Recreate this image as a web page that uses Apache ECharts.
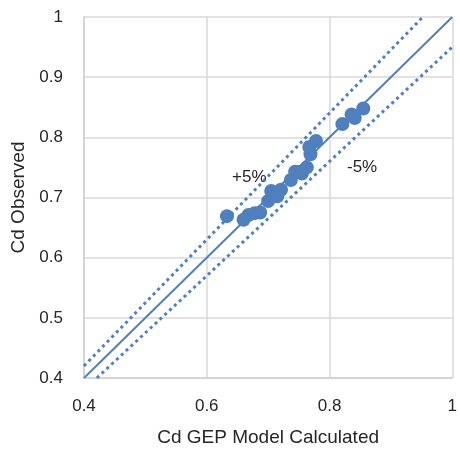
<!DOCTYPE html>
<html>
<head>
    <meta charset="utf-8">
    <title>Cd Observed vs Calculated</title>
    <script src="https://cdn.jsdelivr.net/npm/echarts@6/dist/echarts.min.js"></script>
    <style>
        html, body { margin: 0; padding: 0; background: #fff; }
        #chart1 { width: 460px; height: 452px; }
    </style>
</head>
<body>
<div id="chart1"></div>
<script type="text/javascript">
    // 观测点 (GEP 计算值, 实测值)
    var calculated = [0.633, 0.660, 0.668, 0.678, 0.687, 0.700, 0.705, 0.715, 0.721, 0.737,
                      0.744, 0.752, 0.755, 0.763, 0.769, 0.767, 0.778, 0.821, 0.836, 0.841, 0.855];
    var observed   = [0.669, 0.663, 0.671, 0.674, 0.675, 0.694, 0.711, 0.702, 0.713, 0.729,
                      0.743, 0.743, 0.740, 0.750, 0.772, 0.784, 0.794, 0.822, 0.838, 0.832, 0.848];

    // 参考线端点
    var perfectLine = [[0.4, 0.4], [1, 1]];
    var plus5Line   = [[0.4, 0.42], [0.952, 1]];
    var minus5Line  = [[0.421, 0.4], [1, 0.95]];

    var xTicks = [0.4, 0.6, 0.8, 1];
    var yTicks = [0.4, 0.5, 0.6, 0.7, 0.8, 0.9, 1];

    var blue = '#4f80bd';
    var font = 'Liberation Sans, Arial, sans-serif';

    var points = calculated.map(function (x, i) { return [x, observed[i]]; });

    var myChart1 = echarts.init(document.getElementById('chart1'));
    myChart1.setOption({
        animation: false,
        grid: { left: 84, right: 3, top: 17, bottom: 71 },
        xAxis: {
            type: 'value', min: 0.4, max: 1, interval: 0.2,
            name: 'Cd GEP Model Calculated', nameLocation: 'middle', nameGap: 50,
            nameTextStyle: { fontFamily: font, fontSize: 19, color: '#262626' },
            axisLine: { lineStyle: { color: '#d0d0d0', width: 1.5 } },
            axisTick: { show: false },
            axisLabel: {
                margin: 20, fontFamily: font, fontSize: 17, color: '#262626',
                formatter: function (v) { return xTicks.indexOf(+v.toFixed(1)) >= 0 ? String(+v.toFixed(1)) : ''; }
            },
            splitLine: { lineStyle: { color: '#d9d9d9', width: 1.5 } }
        },
        yAxis: {
            type: 'value', min: 0.4, max: 1, interval: 0.1,
            name: 'Cd Observed', nameLocation: 'middle', nameGap: 54,
            nameTextStyle: { fontFamily: font, fontSize: 19, color: '#262626' },
            axisLine: { show: true, lineStyle: { color: '#d0d0d0', width: 1.5 } },
            axisTick: { show: false },
            axisLabel: {
                margin: 21, fontFamily: font, fontSize: 17, color: '#262626',
                formatter: function (v) { return yTicks.indexOf(+v.toFixed(1)) >= 0 ? String(+v.toFixed(1)) : ''; }
            },
            splitLine: { lineStyle: { color: '#d9d9d9', width: 1.5 } }
        },
        series: [
            {
                type: 'line', data: perfectLine, symbol: 'none', clip: true,
                lineStyle: { color: blue, width: 2 }, z: 2
            },
            {
                type: 'line', data: plus5Line, symbol: 'none', clip: true,
                lineStyle: { color: blue, width: 3, type: [3, 3.6] }, z: 2
            },
            {
                type: 'line', data: minus5Line, symbol: 'none', clip: true,
                lineStyle: { color: blue, width: 3, type: [3, 3.6] }, z: 2
            },
            {
                type: 'scatter', data: points, symbolSize: 14,
                itemStyle: { color: blue, opacity: 1 }, z: 3
            }
        ],
        graphic: [
            { type: 'text', left: 232, top: 169, style: { text: '+5%', fontFamily: font, fontSize: 17, fill: '#262626' } },
            { type: 'text', left: 347, top: 159, style: { text: '-5%', fontFamily: font, fontSize: 17, fill: '#262626' } }
        ]
    });
</script>
</body>
</html>
